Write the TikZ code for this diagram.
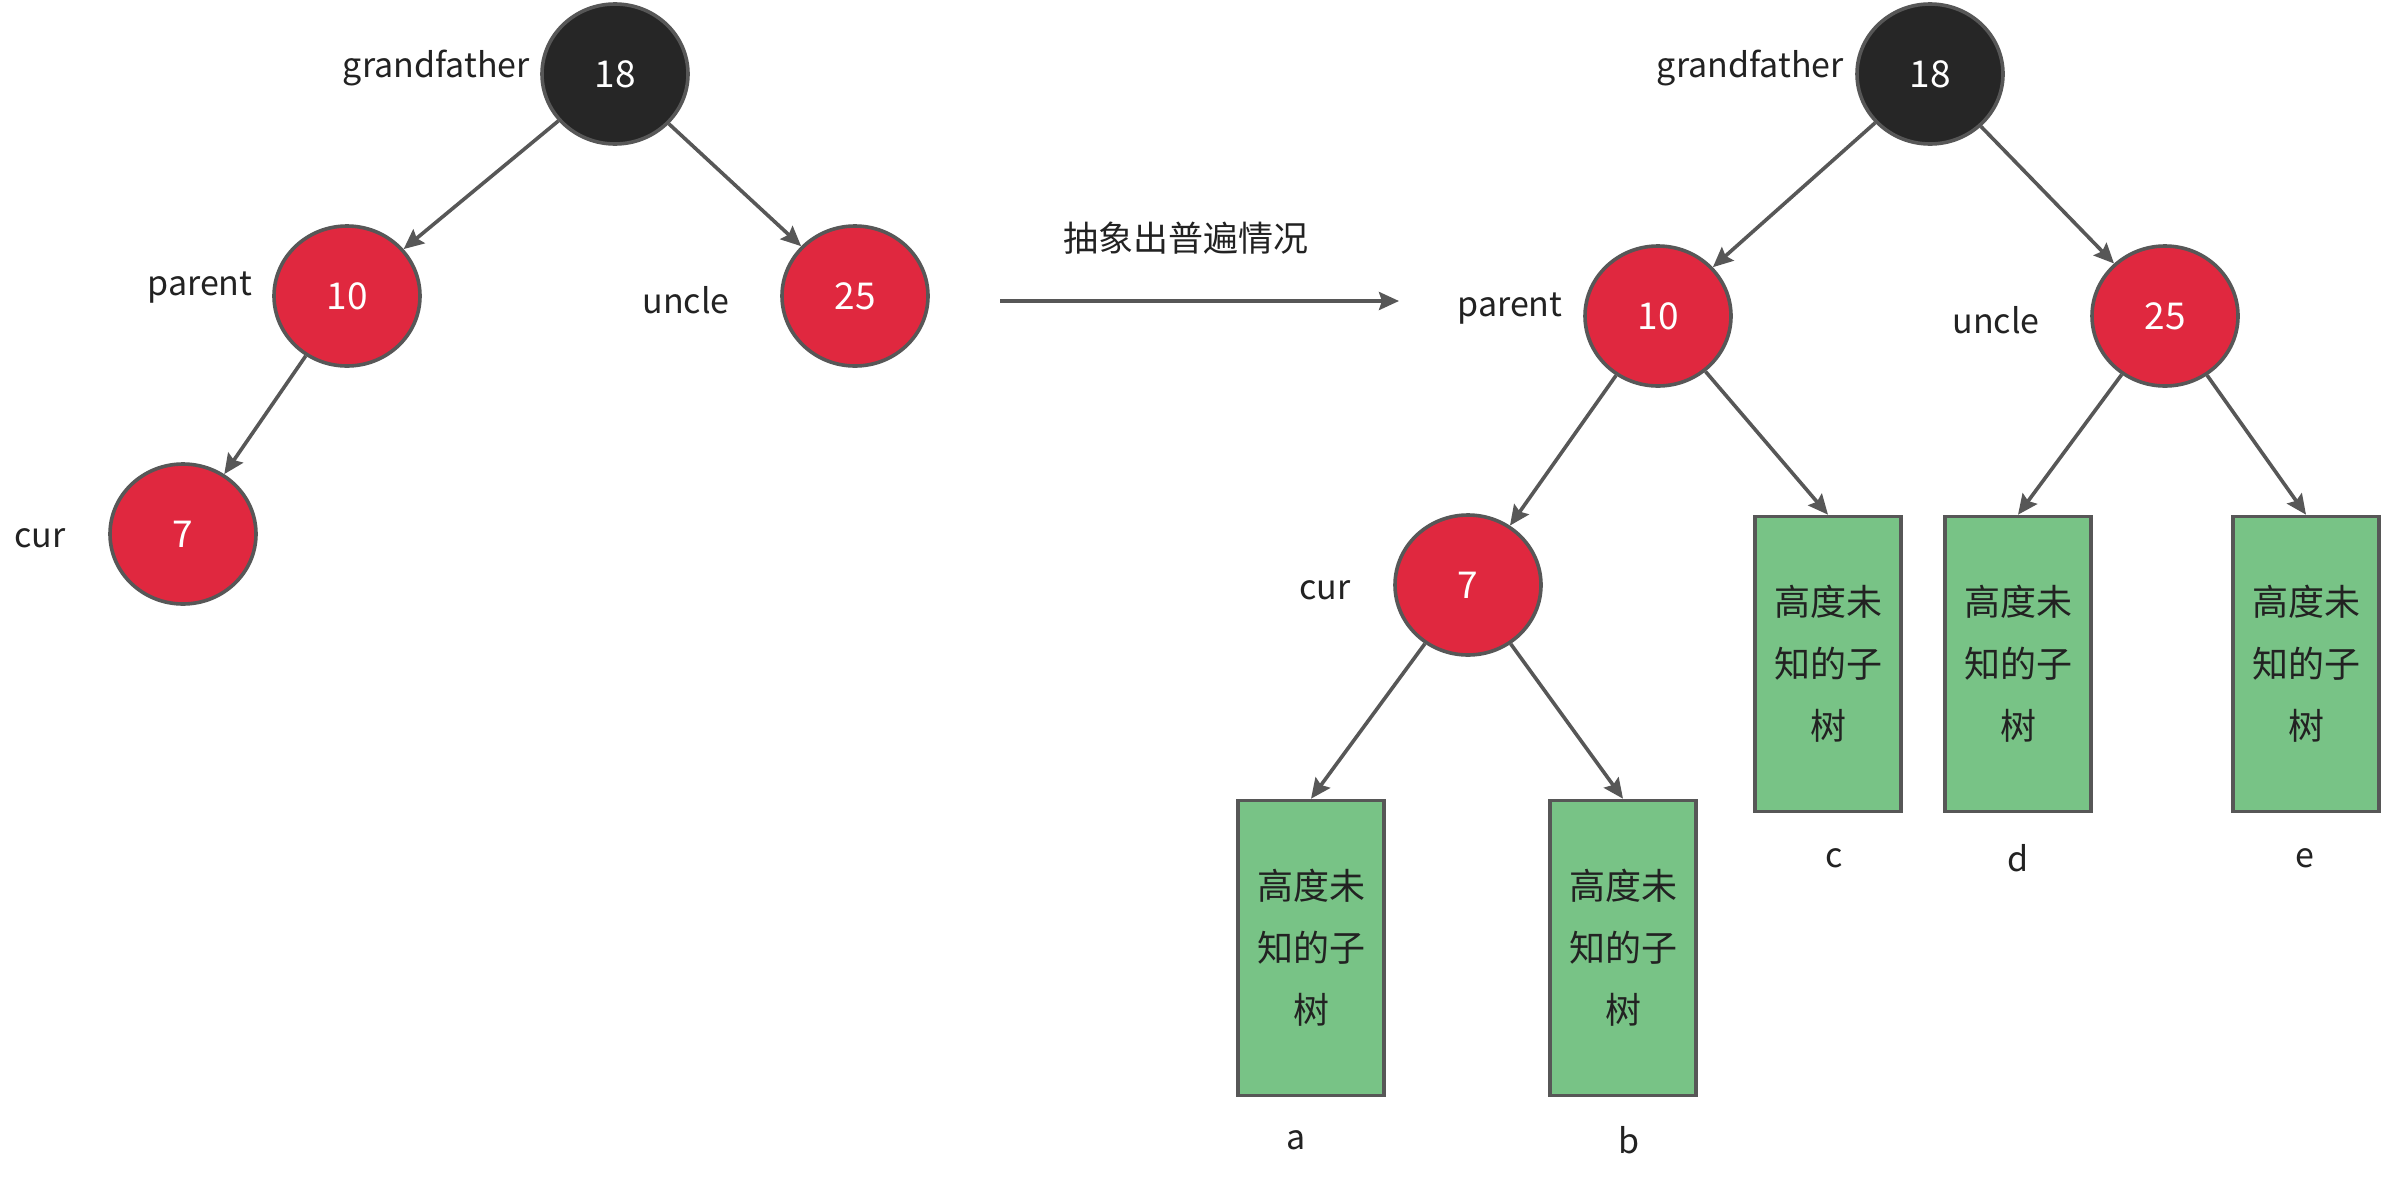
\documentclass[tikz,border=0pt]{standalone}
\usepackage{fontspec}
\setmainfont{Noto Sans CJK SC}
\usetikzlibrary{arrows.meta,shapes.geometric}
\definecolor{rbred}{HTML}{E0283F}
\definecolor{rbblack}{HTML}{262626}
\definecolor{edgegray}{HTML}{575757}
\definecolor{subgreen}{HTML}{78C386}
\definecolor{txtgray}{HTML}{222222}
\begin{document}
\begin{tikzpicture}[x=1pt,y=-1pt,
 rbnode/.style={ellipse, draw=edgegray, line width=3.6pt, minimum width=146pt, minimum height=140pt, inner sep=0pt, text=white, font=\fontsize{37}{40}\selectfont},
 rednode/.style={rbnode, fill=rbred},
 blacknode/.style={rbnode, fill=rbblack},
 subtree/.style={rectangle, draw=edgegray, line width=3.6pt, fill=subgreen, minimum width=146pt, minimum height=295pt, inner sep=0pt, align=center, font=\fontsize{36}{62}\selectfont, text=txtgray},
 lbl/.style={font=\fontsize{34}{40}\selectfont, text=txtgray, inner sep=0pt},
 link/.style={draw=edgegray, line width=3.6pt, -{Stealth[length=20pt,width=18pt,inset=3pt]}}
]
\path[fill=white,use as bounding box] (0,0) rectangle (2394,1181);

% ---------- left tree ----------
\node[blacknode] (L18) at (615,74) {18};
\node[rednode] (L10) at (347,296) {10};
\node[rednode] (L25) at (855,296) {25};
\node[rednode] (L7) at (183,534) {7};
\node[lbl, anchor=east] (Lgf) at (530,68) {grandfather};
\node[lbl] (Lpar) at (200,288) {parent};
\node[lbl] (Lunc) at (686,300) {uncle};
\node[lbl] (Lcur) at (40,538) {cur};
\draw[link] (L18) -- (L10);
\draw[link] (L18) -- (L25);
\draw[link] (L10) -- (L7);

% ---------- middle arrow ----------
\coordinate (As) at (1000,301);
\coordinate (At) at (1399,301);
\draw[link] (As) -- (At);
\node[font=\fontsize{35}{40}\selectfont, text=txtgray, inner sep=0pt] (Alabel) at (1186,238) {抽象出普遍情况};

% ---------- right tree ----------
\node[blacknode] (R18) at (1930,74) {18};
\node[rednode] (R10) at (1658,316) {10};
\node[rednode] (R25) at (2165,316) {25};
\node[rednode] (R7) at (1468,585) {7};
\node[lbl, anchor=east] (Rgf) at (1844,68) {grandfather};
\node[lbl] (Rpar) at (1510,309) {parent};
\node[lbl] (Runc) at (1996,320) {uncle};
\node[lbl] (Rcur) at (1325,590) {cur};

\node[subtree] (Sa) at (1311,948) {高度未\\知的子\\树};
\node[subtree] (Sb) at (1623,948) {高度未\\知的子\\树};
\node[subtree] (Sc) at (1828,664) {高度未\\知的子\\树};
\node[subtree] (Sd) at (2018,664) {高度未\\知的子\\树};
\node[subtree] (Se) at (2306,664) {高度未\\知的子\\树};

\node[lbl] (La) at (1296,1140) {a};
\node[lbl] (Lb) at (1629,1140) {b};
\node[lbl] (Lc) at (1834,858) {c};
\node[lbl] (Ld) at (2018,858) {d};
\node[lbl] (Le) at (2305,858) {e};

\draw[link] (R18) -- (R10);
\draw[link] (R18) -- (R25);
\draw[link] (R10) -- (R7);
\draw[link] (R10) -- (Sc.north);
\draw[link] (R25) -- (Sd.north);
\draw[link] (R25) -- (Se.north);
\draw[link] (R7) -- (Sa.north);
\draw[link] (R7) -- (Sb.north);
\end{tikzpicture}
\end{document}
